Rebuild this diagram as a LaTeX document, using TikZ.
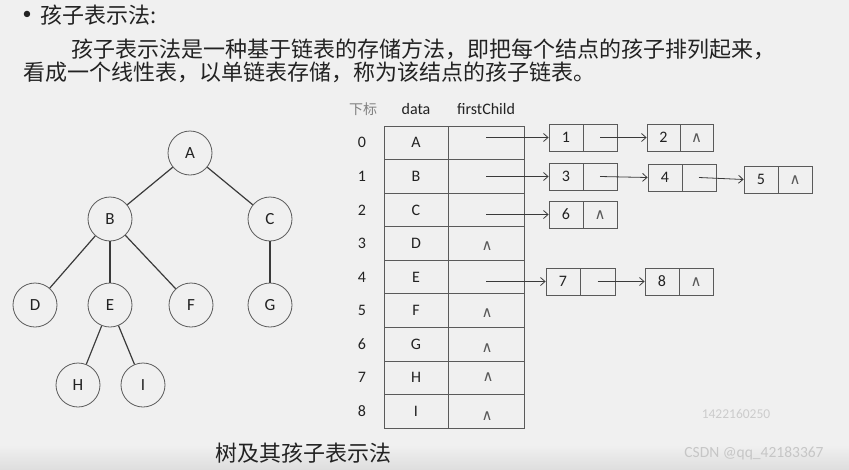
\documentclass[tikz,border=0pt]{standalone}
\usepackage{fontspec}
\setmainfont{Carlito}
\newfontfamily\cjk{Noto Sans CJK SC}
\newfontfamily\sym{DejaVu Sans}
\usetikzlibrary{arrows.meta,calc}
\definecolor{bg}{RGB}{240,240,240}
\definecolor{ink}{RGB}{34,34,34}
\definecolor{edge}{RGB}{58,58,58}
\definecolor{rim}{RGB}{90,90,90}
\begin{document}
\begin{tikzpicture}[x=1pt,y=-1pt,
  treenode/.style={circle,draw=rim,line width=0.8pt,minimum size=44pt,inner sep=0pt,font=\fontsize{17}{17}\selectfont,text=ink},
  treeedge/.style={draw=edge,line width=1.2pt},
  dcell/.style={rectangle,draw=rim,line width=0.8pt,minimum width=64pt,minimum height=33.56pt,inner sep=0pt,font=\fontsize{16}{16}\selectfont,text=ink},
  fcell/.style={rectangle,draw=rim,line width=0.8pt,minimum width=76pt,minimum height=33.56pt,inner sep=0pt},
  idx/.style={font=\fontsize{16}{16}\selectfont,text=ink},
  hdr/.style={font=\fontsize{16}{16}\selectfont,text=ink},
  lcell/.style={rectangle,draw=rim,line width=0.8pt,minimum width=34pt,minimum height=27pt,inner sep=0pt,font=\fontsize{16}{16}\selectfont,text=ink},
  nil/.style={font=\sym\fontsize{15}{15}\selectfont,text=ink!75,inner sep=0pt},
  ptr/.style={draw=edge,line width=0.8pt,-{Straight Barb[length=4.5pt,width=8pt]}},
  cjktext/.style={font=\cjk\fontsize{22}{26}\selectfont,text=ink,inner sep=0pt}
]
\useasboundingbox (0,0) rectangle (849,469);
\fill[bg] (0,0) rectangle (849,469);
\shade[top color=bg,bottom color={rgb,255:red,222;green,222;blue,222}] (0,445) rectangle (849,469);

% heading text
\node[font=\fontsize{18}{18}\selectfont,text=ink,inner sep=0pt] (bul) at (27,15) {•};
\node[cjktext,anchor=west] (title) at (40,15) {孩子表示法:};
\node[cjktext,anchor=west] (line1) at (71,49) {孩子表示法是一种基于链表的存储方法，即把每个结点的孩子排列起来，};
\node[cjktext,anchor=west] (line2) at (23,72) {看成一个线性表，以单链表存储，称为该结点的孩子链表。};

% tree
\node[treenode] (A) at (190,153) {A};
\node[treenode] (B) at (110,219) {B};
\node[treenode] (C) at (270,219) {C};
\node[treenode] (D) at (35,305) {D};
\node[treenode] (E) at (110,305) {E};
\node[treenode] (F) at (191,305) {F};
\node[treenode] (G) at (270,305) {G};
\node[treenode] (H) at (78,385) {H};
\node[treenode] (I) at (143,385) {I};
\draw[treeedge] (A) -- (B);
\draw[treeedge] (A) -- (C);
\draw[treeedge] (B) -- (D);
\draw[treeedge] (B) -- (E);
\draw[treeedge] (B) -- (F);
\draw[treeedge] (C) -- (G);
\draw[treeedge] (E) -- (H);
\draw[treeedge] (E) -- (I);
\node[cjktext] (cap) at (303,453) {树及其孩子表示法};

% table header
\node[font=\cjk\fontsize{14}{14}\selectfont,text=gray] (hidx) at (363,109) {下标};
\node[hdr] (hdata) at (416,109) {data};
\node[hdr] (hfc) at (486,109) {firstChild};

% table
\foreach \i/\d in {0/A,1/B,2/C,3/D,4/E,5/F,6/G,7/H,8/I}{
  \pgfmathsetmacro{\yy}{126+33.56*\i+16.78}
  \node[idx] (i\i) at (362,\yy) {\i};
  \node[dcell] (d\i) at (416,\yy) {\d};
  \node[fcell] (f\i) at (486,\yy) {};
}
\node[nil] (z3) at ($(f3.center)+(1,3)$) {∧};
\node[nil] (z5) at ($(f5.center)+(1,2.5)$) {∧};
\node[nil] (z6) at ($(f6.center)+(1,4.5)$) {∧};
\node[nil] (z7) at ($(f7.center)+(2,-1)$) {∧};
\node[nil] (z8) at ($(f8.center)+(1,5)$) {∧};

% linked lists
\node[lcell] (n1) at (566,137.5) {1};
\node[lcell] (p1) at (600,137.5) {};
\node[lcell,minimum width=33pt] (n2) at (663.5,137.5) {2};
\node[lcell,minimum width=33pt] (p2) at (696.5,137.5) {};
\node[nil] (q2) at ($(p2.center)+(0,1)$) {∧};

\node[lcell] (n3) at (566,176.5) {3};
\node[lcell] (p3) at (600,176.5) {};
\node[lcell] (n4) at (665,177.5) {4};
\node[lcell] (p4) at (699,177.5) {};
\node[lcell] (n5) at (761,179.5) {5};
\node[lcell] (p5) at (795,179.5) {};
\node[nil] (q5) at ($(p5.center)+(0,1)$) {∧};

\node[lcell] (n6) at (566,214.5) {6};
\node[lcell] (p6) at (600,214.5) {};
\node[nil] (q6) at ($(p6.center)+(0,1)$) {∧};

\node[lcell] (n7) at (563,281.5) {7};
\node[lcell,minimum width=35pt] (p7) at (597.5,281.5) {};
\node[lcell] (n8) at (662,281.5) {8};
\node[lcell] (p8) at (696,281.5) {};
\node[nil] (q8) at ($(p8.center)+(0,1)$) {∧};

% pointers
\draw[ptr] (f0.center |- n1.west) -- (n1.west);
\draw[ptr] (f1.center |- n3.west) -- (n3.west);
\draw[ptr] (f2.center |- n6.west) -- (n6.west);
\draw[ptr] (f4.center |- n7.west) -- (n7.west);
\draw[ptr] (p1.center) -- (n2.west);
\draw[ptr] (p3.center) -- (n4.west);
\draw[ptr] (p4.center) -- (n5.west);
\draw[ptr] (p7.center) -- (n8.west);

% watermarks
\node[font=\fontsize{13.5}{13.5}\selectfont,text=gray!40] (wm1) at (736,414) {1422160250};
\node[font=\fontsize{15.5}{15.5}\selectfont,text=gray!45] (wm2) at (754,453) {CSDN @qq\_42183367};
\end{tikzpicture}
\end{document}
